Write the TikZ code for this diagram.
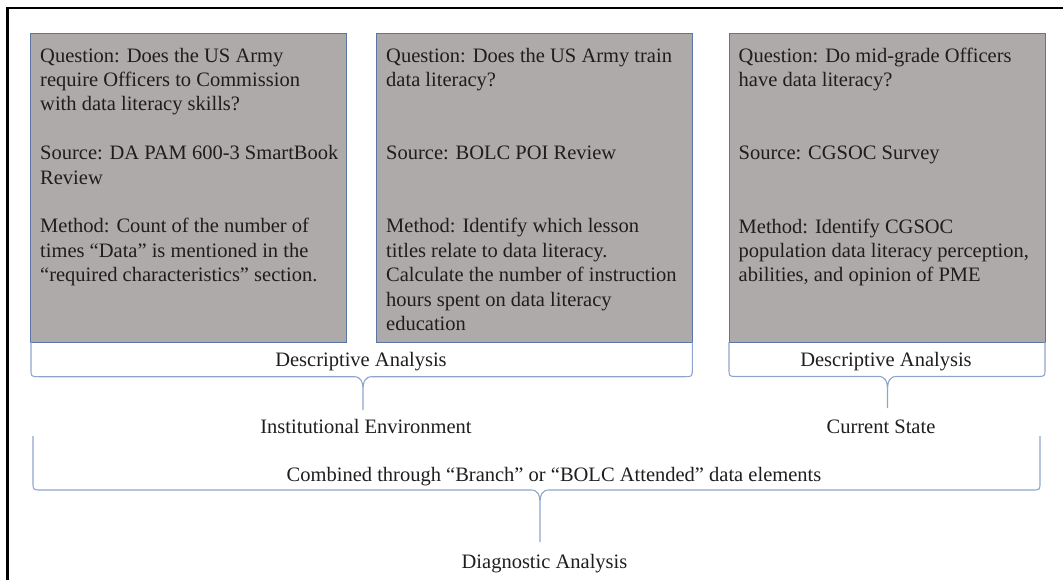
\documentclass[tikz,border=0pt]{standalone}
\usepackage{fontspec}
\setmainfont{Liberation Serif}
\usetikzlibrary{calc}
\definecolor{boxfill}{HTML}{AEAAA9}
\definecolor{boxline}{HTML}{5B76A6}
\definecolor{braceline}{HTML}{8FA4CB}
\definecolor{ink}{HTML}{1E1E1E}
\newcommand{\drawbrace}[6]{%
 \draw[bracepath] (#1,#3) -- (#1,{#4-8}) .. controls (#1,#4) .. ({#1+8},#4) -- ({#5-9},#4) .. controls ({#5-2},#4) and (#5,{#4+5}) .. (#5,{#4+14}) -- (#5,#6)
   (#5,{#4+14}) .. controls (#5,{#4+5}) and ({#5+2},#4) .. ({#5+9},#4) -- ({#2-8},#4) .. controls (#2,#4) .. (#2,{#4-8}) -- (#2,#3);%
}
\begin{document}
\begin{tikzpicture}[x=1pt,y=-1pt,font=\fontsize{20.5}{24.4}\selectfont,text=ink,
  infobox/.style={draw=boxline,line width=1pt,fill=boxfill,minimum width=316pt,minimum height=308pt,anchor=north west,inner sep=0pt,outer sep=0pt},
  boxtext/.style={anchor=north west,align=left,inner sep=0pt},
  lbl/.style={anchor=base,inner sep=0pt},
  bracepath/.style={draw=braceline,line width=1.1pt},
  frame/.style={draw=black,line width=2.5pt}]
\useasboundingbox (0,0) rectangle (1063,580);
\draw[frame] (7.5,580) -- (7.5,8) -- (1063,8);

\node[infobox] (b1) at (30.5,34) {};
\node[infobox] (b2) at (376.5,34) {};
\node[infobox] (b3) at (729,34) {};

\node[boxtext] (t1) at ($(b1.north west)+(9.5,13.6)$) {Question: Does the US Army\\require Officers to Commission\\with data literacy skills?\\[24.4pt]Source: DA PAM 600-3 SmartBook\\Review\\[24.4pt]Method: Count of the number of\\times “Data” is mentioned in the\\“required characteristics” section.};
\node[boxtext] (t2) at ($(b2.north west)+(9.5,13.6)$) {Question: Does the US Army train\\data literacy?\\[48.8pt]Source: BOLC POI Review\\[48.8pt]Method: Identify which lesson\\titles relate to data literacy.\\Calculate the number of instruction\\hours spent on data literacy\\education};
\node[boxtext] (t3) at ($(b3.north west)+(9.5,13.6)$) {Question: Do mid-grade Officers\\have data literacy?\\[48.8pt]Source: CGSOC Survey\\[48.8pt]Method: Identify CGSOC\\population data literacy perception,\\abilities, and opinion of PME};

\drawbrace{31}{692.3}{342}{376.7}{363}{410}
\drawbrace{729}{1045}{342}{376.5}{887.5}{408}
\drawbrace{33}{1040}{436}{490}{540}{542}

\node[lbl] (da1) at (361,366.7) {Descriptive Analysis};
\node[lbl] (da2) at (886,366.7) {Descriptive Analysis};
\node[lbl] (ie) at (366,433.3) {Institutional Environment};
\node[lbl] (cs) at (881,433.3) {Current State};
\node[lbl] (cb) at (554,481.7) {Combined through “Branch” or “BOLC Attended” data elements};
\node[lbl] (dg) at (544.5,568.3) {Diagnostic Analysis};
\end{tikzpicture}
\end{document}
